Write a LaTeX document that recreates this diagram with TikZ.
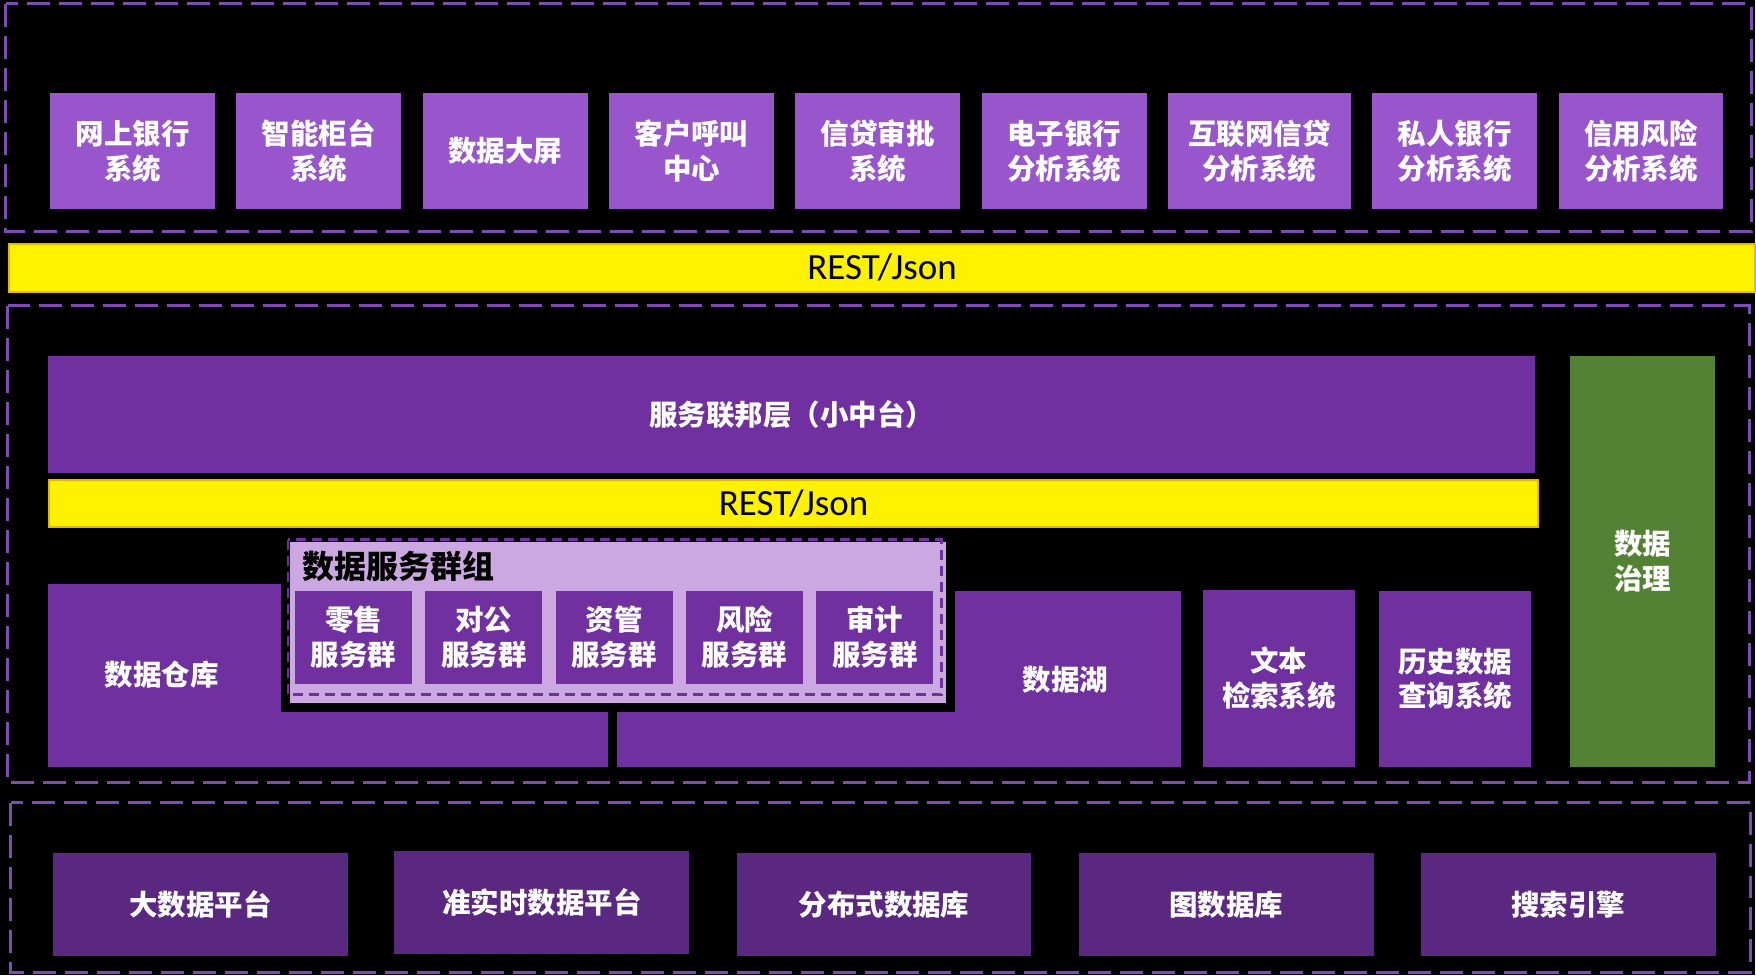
\documentclass[tikz,border=0pt]{standalone}
\usepackage{fontspec}
\usepackage{xcolor}
\usepackage{tikz}
\usetikzlibrary{positioning}
\newfontfamily\cjk{Noto Sans CJK SC}
\newfontfamily\carl{Carlito}
\definecolor{topC}{HTML}{9955CC}
\definecolor{midC}{HTML}{7030A0}
\definecolor{lowC}{HTML}{5A2781}
\definecolor{grpC}{HTML}{CCA8E3}
\definecolor{zhiC}{HTML}{548235}
\definecolor{dashC}{HTML}{7E4DB3}
\definecolor{bandE}{HTML}{E6B800}
\tikzset{
  blok/.style={rectangle, fill=#1, inner sep=0pt, anchor=north west, align=center, text=white,
               font=\cjk\bfseries\fontsize{28.5}{35}\selectfont},
  band/.style={rectangle, fill=yellow, draw=bandE, line width=2pt, inner sep=0pt, anchor=north west,
               font=\carl\fontsize{37}{40}\selectfont},
  lyr/.style={draw=dashC, line width=3pt, dash pattern=on 23pt off 9pt},
  lbl/.style={text=white, align=center, font=\cjk\bfseries\fontsize{28.5}{35}\selectfont},
}
\begin{document}
\begin{tikzpicture}[x=1pt,y=-1pt]
  \fill[black] (0,0) rectangle (1756,976);
  % application layer
  \draw[lyr] (6,4) rectangle (1752,232);
  \node[blok=topC, minimum width=165pt, minimum height=116pt] (w1) at (50,93) {网上银行\\系统};
  \node[blok=topC, minimum width=165pt, minimum height=116pt, right=21pt of w1] (w2) {智能柜台\\系统};
  \node[blok=topC, minimum width=165pt, minimum height=116pt, right=21pt of w2] (w3) {数据大屏};
  \node[blok=topC, minimum width=165pt, minimum height=116pt, right=21pt of w3] (w4) {客户呼叫\\中心};
  \node[blok=topC, minimum width=165pt, minimum height=116pt, right=21pt of w4] (w5) {信贷审批\\系统};
  \node[blok=topC, minimum width=165pt, minimum height=116pt, right=21pt of w5] (w6) {电子银行\\分析系统};
  \node[blok=topC, minimum width=183pt, minimum height=116pt, right=21pt of w6] (w7) {互联网信贷\\分析系统};
  \node[blok=topC, minimum width=165pt, minimum height=116pt, right=21pt of w7] (w8) {私人银行\\分析系统};
  \node[blok=topC, minimum width=165pt, minimum height=116pt, right=21pt of w8] (w9) {信用风险\\分析系统};
  \node[band, minimum width=1747pt, minimum height=48pt] (r1) at (8,243) {REST/Json};
  % service layer
  \draw[lyr] (8,306) rectangle (1750,783);
  \node[blok=midC, minimum width=1488pt, minimum height=117pt] (fed) at (48,356) {服务联邦层（小中台）};
  \node[band, minimum width=1490pt, minimum height=47pt] (r2) at (48,479) {REST/Json};
  \node[blok=zhiC, minimum width=145pt, minimum height=411pt] (gov) at (1571,356) {数据\\治理};
  \node[blok=midC, minimum width=560pt, minimum height=183pt] (dw) at (48,584) {};
  \node[lbl] (dwt) at (162,675) {数据仓库};
  \node[blok=midC, minimum width=564pt, minimum height=176pt] (lake) at (617,591) {};
  \node[lbl] (laket) at (1066,680) {数据湖};
  \node[blok=midC, minimum width=153pt, minimum height=177pt] (txt) at (1203,590) {文本\\检索系统};
  \node[blok=midC, minimum width=152pt, minimum height=176pt] (his) at (1380,591) {历史数据\\查询系统};
  % service group
  \node[rectangle, fill=grpC, draw=black, line width=9pt, anchor=north west, inner sep=0pt,
        minimum width=666pt, minimum height=170pt] (grp) at (281,533) {};
  \draw[draw=midC, line width=2.5pt, dash pattern=on 10pt off 6pt] (288,540) rectangle (942,695);
  \node[anchor=west, text=black, font=\cjk\bfseries\fontsize{32}{36}\selectfont] (grpt) at (299,567) {数据服务群组};
  \node[blok=midC, minimum width=117pt, minimum height=93pt] (s1) at (295,591) {零售\\服务群};
  \node[blok=midC, minimum width=117pt, minimum height=93pt, right=13pt of s1] (s2) {对公\\服务群};
  \node[blok=midC, minimum width=117pt, minimum height=93pt, right=13pt of s2] (s3) {资管\\服务群};
  \node[blok=midC, minimum width=117pt, minimum height=93pt, right=13pt of s3] (s4) {风险\\服务群};
  \node[blok=midC, minimum width=117pt, minimum height=93pt, right=13pt of s4] (s5) {审计\\服务群};
  % platform layer
  \draw[lyr] (11,803) rectangle (1751,973);
  \node[blok=lowC, minimum width=295pt, minimum height=103pt] (b1) at (53,853) {大数据平台};
  \node[blok=lowC, minimum width=295pt, minimum height=103pt, right=46pt of b1, yshift=2pt] (b2) {准实时数据平台};
  \node[blok=lowC, minimum width=295pt, minimum height=103pt, right=47pt of b2, yshift=-2pt] (b3) {分布式数据库};
  \node[blok=lowC, minimum width=295pt, minimum height=103pt, right=47pt of b3] (b4) {图数据库};
  \node[blok=lowC, minimum width=295pt, minimum height=103pt, right=47pt of b4] (b5) {搜索引擎};
\end{tikzpicture}
\end{document}
